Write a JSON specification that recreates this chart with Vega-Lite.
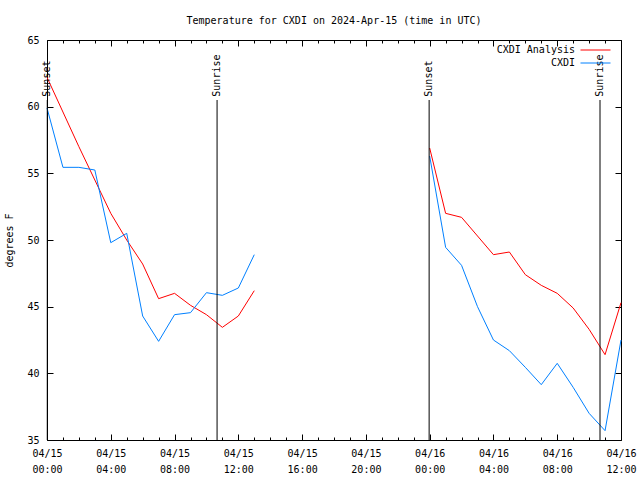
{
  "$schema": "https://vega.github.io/schema/vega-lite/v6.json",
  "width": 574,
  "height": 400,
  "autosize": {"type": "none"},
  "padding": {"left": 47, "top": 40, "right": 19, "bottom": 40},
  "background": "white",
  "title": {
    "text": "Temperature for CXDI on 2024-Apr-15 (time in UTC)",
    "font": "DejaVu Sans Mono", "fontSize": 10, "fontWeight": "normal", "color": "black",
    "offset": -1, "baseline": "bottom", "anchor": "middle", "frame": "group"
  },
  "config": {
    "view": {"stroke": "black", "strokeWidth": 1},
    "axis": {
      "domain": false, "grid": false,
      "labelFont": "DejaVu Sans Mono", "labelFontSize": 10, "labelColor": "black",
      "tickColor": "black", "tickWidth": 1,
      "titleFont": "DejaVu Sans Mono", "titleFontSize": 10, "titleFontWeight": "normal", "titleColor": "black"
    },
    "legend": {
      "orient": "none", "legendX": 543, "legendY": 4.5,
      "symbolType": "M-3,0H3", "symbolSize": 100, "symbolStrokeWidth": 1,
      "labelFont": "DejaVu Sans Mono", "labelFontSize": 10, "labelColor": "black",
      "labelAlign": "right", "labelOffset": -26, "rowPadding": 2, "padding": 0
    }
  },
  "datasets": {
    "obs": [
      {"t": "2024-04-15T00:00:00Z", "series": "CXDI Analysis", "temp": 62.2},
      {"t": "2024-04-15T01:00:00Z", "series": "CXDI Analysis", "temp": 59.6},
      {"t": "2024-04-15T02:00:00Z", "series": "CXDI Analysis", "temp": 57.0},
      {"t": "2024-04-15T03:00:00Z", "series": "CXDI Analysis", "temp": 54.5},
      {"t": "2024-04-15T04:00:00Z", "series": "CXDI Analysis", "temp": 52.0},
      {"t": "2024-04-15T05:00:00Z", "series": "CXDI Analysis", "temp": 50.0},
      {"t": "2024-04-15T06:00:00Z", "series": "CXDI Analysis", "temp": 48.2},
      {"t": "2024-04-15T07:00:00Z", "series": "CXDI Analysis", "temp": 45.6},
      {"t": "2024-04-15T08:00:00Z", "series": "CXDI Analysis", "temp": 46.0},
      {"t": "2024-04-15T09:00:00Z", "series": "CXDI Analysis", "temp": 45.1},
      {"t": "2024-04-15T10:00:00Z", "series": "CXDI Analysis", "temp": 44.4},
      {"t": "2024-04-15T11:00:00Z", "series": "CXDI Analysis", "temp": 43.45},
      {"t": "2024-04-15T12:00:00Z", "series": "CXDI Analysis", "temp": 44.3},
      {"t": "2024-04-15T13:00:00Z", "series": "CXDI Analysis", "temp": 46.2},
      {"t": "2024-04-16T00:00:00Z", "series": "CXDI Analysis", "temp": 56.9},
      {"t": "2024-04-16T01:00:00Z", "series": "CXDI Analysis", "temp": 52.0},
      {"t": "2024-04-16T02:00:00Z", "series": "CXDI Analysis", "temp": 51.7},
      {"t": "2024-04-16T03:00:00Z", "series": "CXDI Analysis", "temp": 50.3},
      {"t": "2024-04-16T04:00:00Z", "series": "CXDI Analysis", "temp": 48.9},
      {"t": "2024-04-16T05:00:00Z", "series": "CXDI Analysis", "temp": 49.1},
      {"t": "2024-04-16T06:00:00Z", "series": "CXDI Analysis", "temp": 47.4},
      {"t": "2024-04-16T07:00:00Z", "series": "CXDI Analysis", "temp": 46.6},
      {"t": "2024-04-16T08:00:00Z", "series": "CXDI Analysis", "temp": 46.0},
      {"t": "2024-04-16T09:00:00Z", "series": "CXDI Analysis", "temp": 44.9},
      {"t": "2024-04-16T10:00:00Z", "series": "CXDI Analysis", "temp": 43.3},
      {"t": "2024-04-16T11:00:00Z", "series": "CXDI Analysis", "temp": 41.4},
      {"t": "2024-04-16T12:00:00Z", "series": "CXDI Analysis", "temp": 45.3},
      {"t": "2024-04-15T00:00:00Z", "series": "CXDI", "temp": 59.9},
      {"t": "2024-04-15T01:00:00Z", "series": "CXDI", "temp": 55.45},
      {"t": "2024-04-15T02:00:00Z", "series": "CXDI", "temp": 55.45},
      {"t": "2024-04-15T03:00:00Z", "series": "CXDI", "temp": 55.25},
      {"t": "2024-04-15T04:00:00Z", "series": "CXDI", "temp": 49.8},
      {"t": "2024-04-15T05:00:00Z", "series": "CXDI", "temp": 50.5},
      {"t": "2024-04-15T06:00:00Z", "series": "CXDI", "temp": 44.3},
      {"t": "2024-04-15T07:00:00Z", "series": "CXDI", "temp": 42.4},
      {"t": "2024-04-15T08:00:00Z", "series": "CXDI", "temp": 44.4},
      {"t": "2024-04-15T09:00:00Z", "series": "CXDI", "temp": 44.55},
      {"t": "2024-04-15T10:00:00Z", "series": "CXDI", "temp": 46.05},
      {"t": "2024-04-15T11:00:00Z", "series": "CXDI", "temp": 45.85},
      {"t": "2024-04-15T12:00:00Z", "series": "CXDI", "temp": 46.4},
      {"t": "2024-04-15T13:00:00Z", "series": "CXDI", "temp": 48.9},
      {"t": "2024-04-16T00:00:00Z", "series": "CXDI", "temp": 56.3},
      {"t": "2024-04-16T01:00:00Z", "series": "CXDI", "temp": 49.45},
      {"t": "2024-04-16T02:00:00Z", "series": "CXDI", "temp": 48.1},
      {"t": "2024-04-16T03:00:00Z", "series": "CXDI", "temp": 45.0},
      {"t": "2024-04-16T04:00:00Z", "series": "CXDI", "temp": 42.5},
      {"t": "2024-04-16T05:00:00Z", "series": "CXDI", "temp": 41.7},
      {"t": "2024-04-16T06:00:00Z", "series": "CXDI", "temp": 40.45},
      {"t": "2024-04-16T07:00:00Z", "series": "CXDI", "temp": 39.15},
      {"t": "2024-04-16T08:00:00Z", "series": "CXDI", "temp": 40.75},
      {"t": "2024-04-16T09:00:00Z", "series": "CXDI", "temp": 38.95},
      {"t": "2024-04-16T10:00:00Z", "series": "CXDI", "temp": 37.0},
      {"t": "2024-04-16T11:00:00Z", "series": "CXDI", "temp": 35.7},
      {"t": "2024-04-16T12:00:00Z", "series": "CXDI", "temp": 42.5}
    ],
    "events": [
      {"t": "2024-04-15T00:01:00Z", "label": "Sunset"},
      {"t": "2024-04-15T10:40:00Z", "label": "Sunrise"},
      {"t": "2024-04-15T23:58:00Z", "label": "Sunset"},
      {"t": "2024-04-16T10:41:00Z", "label": "Sunrise"}
    ]
  },
  "resolve": {"axis": {"x": "independent", "y": "independent"}},
  "layer": [
    {
      "data": {"name": "obs"},
      "transform": [{"filter": "datum.series === 'CXDI Analysis'"}],
      "mark": {"type": "line", "strokeWidth": 1},
      "encoding": {
        "x": {
          "field": "t", "type": "temporal",
          "scale": {"type": "utc", "nice": false, "domain": [{"year": 2024, "month": 4, "date": 15, "hours": 0, "utc": true}, {"year": 2024, "month": 4, "date": 16, "hours": 12, "utc": true}]},
          "axis": {
            "orient": "bottom", "tickSize": -6,
            "values": [
              {"year": 2024, "month": 4, "date": 15, "hours": 0, "utc": true},
              {"year": 2024, "month": 4, "date": 15, "hours": 4, "utc": true},
              {"year": 2024, "month": 4, "date": 15, "hours": 8, "utc": true},
              {"year": 2024, "month": 4, "date": 15, "hours": 12, "utc": true},
              {"year": 2024, "month": 4, "date": 15, "hours": 16, "utc": true},
              {"year": 2024, "month": 4, "date": 15, "hours": 20, "utc": true},
              {"year": 2024, "month": 4, "date": 16, "hours": 0, "utc": true},
              {"year": 2024, "month": 4, "date": 16, "hours": 4, "utc": true},
              {"year": 2024, "month": 4, "date": 16, "hours": 8, "utc": true},
              {"year": 2024, "month": 4, "date": 16, "hours": 12, "utc": true}
            ],
            "labelExpr": "[utcFormat(datum.value, '%m/%d'), utcFormat(datum.value, '%H:%M')]",
            "labelPadding": 14, "labelLineHeight": 16, "labelBaseline": "top",
            "labelFlush": false, "labelOverlap": false, "title": null
          }
        },
        "y": {
          "field": "temp", "type": "quantitative",
          "scale": {"domain": [35, 65], "nice": false, "zero": false},
          "axis": {"orient": "left", "values": [35, 40, 45, 50, 55, 60, 65], "tickSize": -6, "labelPadding": 14, "title": "degrees F", "titlePadding": 12}
        },
        "color": {
          "field": "series", "type": "nominal",
          "scale": {"domain": ["CXDI Analysis", "CXDI"], "range": ["#ff0000", "#0080ff"]},
          "legend": {"title": null}
        },
        "detail": {"field": "t", "timeUnit": "utcdate", "type": "ordinal"}
      }
    },
    {
      "data": {"name": "obs"},
      "transform": [{"filter": "datum.series === 'CXDI'"}],
      "mark": {"type": "line", "strokeWidth": 1},
      "encoding": {
        "x": {
          "field": "t", "type": "temporal",
          "scale": {"type": "utc", "nice": false},
          "axis": {
            "orient": "bottom", "tickSize": -3, "labels": false, "title": null,
            "values": [
              {"year": 2024, "month": 4, "date": 15, "hours": 1, "utc": true},
              {"year": 2024, "month": 4, "date": 15, "hours": 2, "utc": true},
              {"year": 2024, "month": 4, "date": 15, "hours": 3, "utc": true},
              {"year": 2024, "month": 4, "date": 15, "hours": 5, "utc": true},
              {"year": 2024, "month": 4, "date": 15, "hours": 6, "utc": true},
              {"year": 2024, "month": 4, "date": 15, "hours": 7, "utc": true},
              {"year": 2024, "month": 4, "date": 15, "hours": 9, "utc": true},
              {"year": 2024, "month": 4, "date": 15, "hours": 10, "utc": true},
              {"year": 2024, "month": 4, "date": 15, "hours": 11, "utc": true},
              {"year": 2024, "month": 4, "date": 15, "hours": 13, "utc": true},
              {"year": 2024, "month": 4, "date": 15, "hours": 14, "utc": true},
              {"year": 2024, "month": 4, "date": 15, "hours": 15, "utc": true},
              {"year": 2024, "month": 4, "date": 15, "hours": 17, "utc": true},
              {"year": 2024, "month": 4, "date": 15, "hours": 18, "utc": true},
              {"year": 2024, "month": 4, "date": 15, "hours": 19, "utc": true},
              {"year": 2024, "month": 4, "date": 15, "hours": 21, "utc": true},
              {"year": 2024, "month": 4, "date": 15, "hours": 22, "utc": true},
              {"year": 2024, "month": 4, "date": 15, "hours": 23, "utc": true},
              {"year": 2024, "month": 4, "date": 16, "hours": 1, "utc": true},
              {"year": 2024, "month": 4, "date": 16, "hours": 2, "utc": true},
              {"year": 2024, "month": 4, "date": 16, "hours": 3, "utc": true},
              {"year": 2024, "month": 4, "date": 16, "hours": 5, "utc": true},
              {"year": 2024, "month": 4, "date": 16, "hours": 6, "utc": true},
              {"year": 2024, "month": 4, "date": 16, "hours": 7, "utc": true},
              {"year": 2024, "month": 4, "date": 16, "hours": 9, "utc": true},
              {"year": 2024, "month": 4, "date": 16, "hours": 10, "utc": true},
              {"year": 2024, "month": 4, "date": 16, "hours": 11, "utc": true}
            ]
          }
        },
        "y": {
          "field": "temp", "type": "quantitative",
          "scale": {"domain": [35, 65], "nice": false, "zero": false},
          "axis": {"orient": "right", "values": [35, 40, 45, 50, 55, 60, 65], "tickSize": -6, "labels": false, "title": null}
        },
        "color": {"field": "series", "type": "nominal", "legend": {"title": null}},
        "detail": {"field": "t", "timeUnit": "utcdate", "type": "ordinal"}
      }
    },
    {
      "data": {"name": "events"},
      "mark": {"type": "rule", "color": "black", "strokeWidth": 1},
      "encoding": {
        "x": {
          "field": "t", "type": "temporal",
          "scale": {"type": "utc", "nice": false},
          "axis": {
            "orient": "top", "tickSize": -6, "labels": false, "title": null,
            "values": [
              {"year": 2024, "month": 4, "date": 15, "hours": 0, "utc": true},
              {"year": 2024, "month": 4, "date": 15, "hours": 4, "utc": true},
              {"year": 2024, "month": 4, "date": 15, "hours": 8, "utc": true},
              {"year": 2024, "month": 4, "date": 15, "hours": 12, "utc": true},
              {"year": 2024, "month": 4, "date": 15, "hours": 16, "utc": true},
              {"year": 2024, "month": 4, "date": 15, "hours": 20, "utc": true},
              {"year": 2024, "month": 4, "date": 16, "hours": 0, "utc": true},
              {"year": 2024, "month": 4, "date": 16, "hours": 4, "utc": true},
              {"year": 2024, "month": 4, "date": 16, "hours": 8, "utc": true},
              {"year": 2024, "month": 4, "date": 16, "hours": 12, "utc": true}
            ]
          }
        },
        "y": {"datum": 60.5, "type": "quantitative", "axis": null},
        "y2": {"datum": 35}
      }
    },
    {
      "data": {"name": "events"},
      "mark": {"type": "text", "angle": 270, "align": "left", "baseline": "middle", "font": "DejaVu Sans Mono", "fontSize": 10, "color": "black"},
      "encoding": {
        "x": {
          "field": "t", "type": "temporal",
          "scale": {"type": "utc", "nice": false},
          "axis": {
            "orient": "top", "tickSize": -3, "labels": false, "title": null,
            "values": [
              {"year": 2024, "month": 4, "date": 15, "hours": 1, "utc": true},
              {"year": 2024, "month": 4, "date": 15, "hours": 2, "utc": true},
              {"year": 2024, "month": 4, "date": 15, "hours": 3, "utc": true},
              {"year": 2024, "month": 4, "date": 15, "hours": 5, "utc": true},
              {"year": 2024, "month": 4, "date": 15, "hours": 6, "utc": true},
              {"year": 2024, "month": 4, "date": 15, "hours": 7, "utc": true},
              {"year": 2024, "month": 4, "date": 15, "hours": 9, "utc": true},
              {"year": 2024, "month": 4, "date": 15, "hours": 10, "utc": true},
              {"year": 2024, "month": 4, "date": 15, "hours": 11, "utc": true},
              {"year": 2024, "month": 4, "date": 15, "hours": 13, "utc": true},
              {"year": 2024, "month": 4, "date": 15, "hours": 14, "utc": true},
              {"year": 2024, "month": 4, "date": 15, "hours": 15, "utc": true},
              {"year": 2024, "month": 4, "date": 15, "hours": 17, "utc": true},
              {"year": 2024, "month": 4, "date": 15, "hours": 18, "utc": true},
              {"year": 2024, "month": 4, "date": 15, "hours": 19, "utc": true},
              {"year": 2024, "month": 4, "date": 15, "hours": 21, "utc": true},
              {"year": 2024, "month": 4, "date": 15, "hours": 22, "utc": true},
              {"year": 2024, "month": 4, "date": 15, "hours": 23, "utc": true},
              {"year": 2024, "month": 4, "date": 16, "hours": 1, "utc": true},
              {"year": 2024, "month": 4, "date": 16, "hours": 2, "utc": true},
              {"year": 2024, "month": 4, "date": 16, "hours": 3, "utc": true},
              {"year": 2024, "month": 4, "date": 16, "hours": 5, "utc": true},
              {"year": 2024, "month": 4, "date": 16, "hours": 6, "utc": true},
              {"year": 2024, "month": 4, "date": 16, "hours": 7, "utc": true},
              {"year": 2024, "month": 4, "date": 16, "hours": 9, "utc": true},
              {"year": 2024, "month": 4, "date": 16, "hours": 10, "utc": true},
              {"year": 2024, "month": 4, "date": 16, "hours": 11, "utc": true}
            ]
          }
        },
        "y": {"datum": 60.75, "type": "quantitative", "axis": null},
        "text": {"field": "label"}
      }
    }
  ]
}
